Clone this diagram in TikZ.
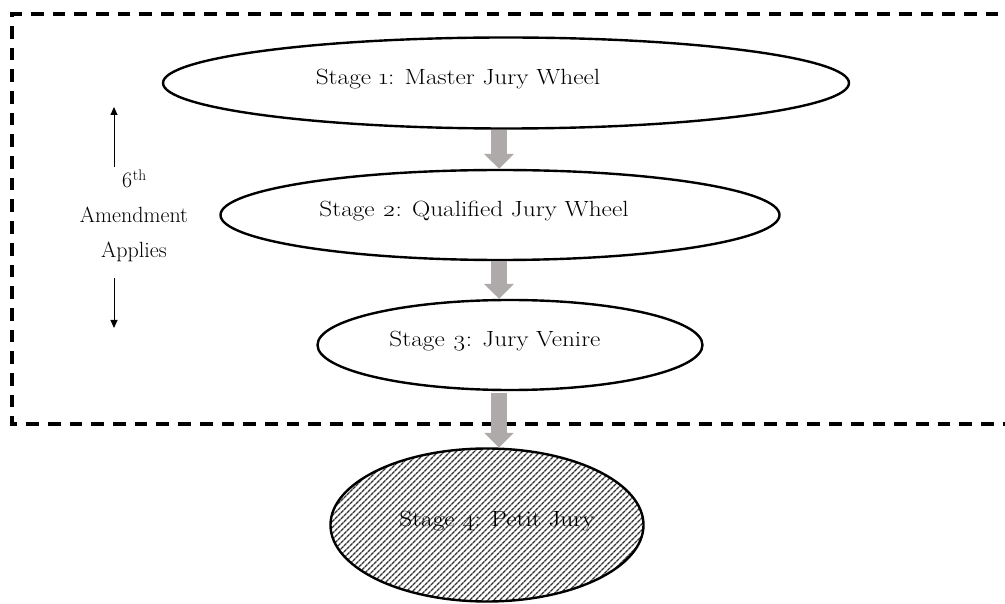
\documentclass[tikz,border=0pt]{standalone}
\usepackage{fontspec}
\setmainfont{Latin Modern Roman}[Numbers=OldStyle]
\newfontfamily\stagefont{Latin Modern Roman}[Numbers=OldStyle, FakeStretch=1.15]
\usetikzlibrary{shapes.geometric,arrows.meta,patterns.meta,calc}
\tikzset{
  stageoval/.style={draw=black, line width=2.4pt, ellipse, inner sep=0pt},
  stagetext/.style={font=\stagefont\fontsize{22}{26}\selectfont, inner sep=0pt},
  sidetext/.style={font=\fontsize{22}{26}\selectfont, inner sep=0pt},
  blockarrow/.style={draw=arrowgray, line width=16pt, -{Triangle[length=15pt,width=29pt]}},
  thinarrow/.style={line width=1pt, -{Triangle[length=8pt,width=7pt]}},
  frame/.style={line width=3.5pt, dash pattern=on 12.7pt off 9pt}
}
\definecolor{arrowgray}{RGB}{174,170,170}
\begin{document}
\begin{tikzpicture}[x=1pt,y=-1pt]
\useasboundingbox (0,0) rectangle (1005,604);
\draw[frame] (1020,14) -- (12,14) -- (12,424) -- (1020,424);

\node[stageoval, minimum width=686pt, minimum height=91pt] (e1) at (506,83) {};
\node[stageoval, minimum width=559pt, minimum height=90pt] (e2) at (500,215) {};
\node[stageoval, minimum width=385pt, minimum height=90pt] (e3) at (510,345) {};
\node[stageoval, minimum width=313pt, minimum height=153pt,
      pattern={Lines[angle=45,distance=4pt,line width=1.5pt]}, pattern color=black!80] (e4) at (487,525) {};

\node[stagetext] (t1) at (458,79) {Stage 1: Master Jury Wheel};
\node[stagetext] (t2) at (474,211) {Stage 2: Qualified Jury Wheel};
\node[stagetext] (t3) at (495,341) {Stage 3: Jury Venire};
\node[stagetext] (t4) at (497,521) {Stage 4: Petit Jury};

\coordinate (ax) at (499,0);
\draw[blockarrow] (ax |- e1.south) -- (ax |- e2.north);
\draw[blockarrow] (ax |- e2.south) -- (ax |- e3.north);
\draw[blockarrow] ($(ax |- e3.south)+(0,2)$) -- (ax |- e4.north);

\node[sidetext, align=center] (amend) at (134,216)
  {6\textsuperscript{th}\\[9pt]Amendment\\[9pt]Applies};
\coordinate (upa) at (114,167);
\coordinate (upb) at (114,107);
\coordinate (dna) at (114,278);
\coordinate (dnb) at (114,328);
\draw[thinarrow] (upa) -- (upb);
\draw[thinarrow] (dna) -- (dnb);
\end{tikzpicture}
\end{document}
